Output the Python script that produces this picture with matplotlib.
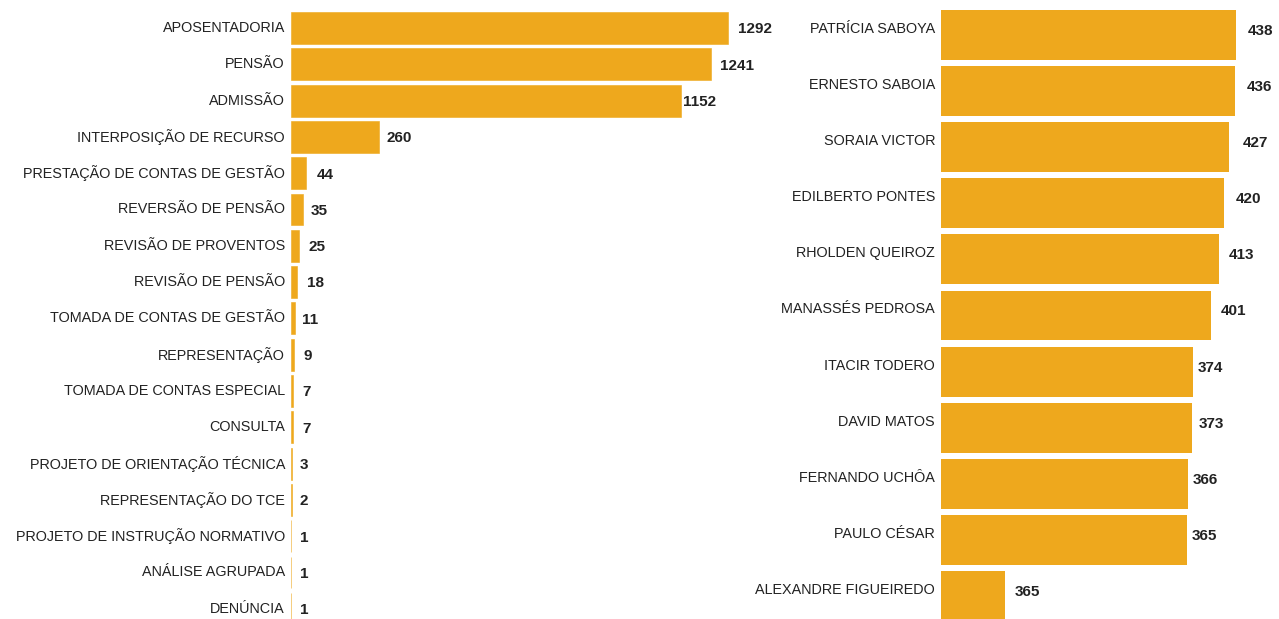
import matplotlib
matplotlib.use("Agg")
from matplotlib import pyplot as plt

plt.rcParams['font.family'] = ['Liberation Sans', 'DejaVu Sans']

# left panel: process types
tipos = ["APOSENTADORIA", "PENSÃO", "ADMISSÃO", "INTERPOSIÇÃO DE RECURSO",
         "PRESTAÇÃO DE CONTAS DE GESTÃO", "REVERSÃO DE PENSÃO", "REVISÃO DE PROVENTOS",
         "REVISÃO DE PENSÃO", "TOMADA DE CONTAS DE GESTÃO", "REPRESENTAÇÃO",
         "TOMADA DE CONTAS ESPECIAL", "CONSULTA", "PROJETO DE ORIENTAÇÃO TÉCNICA",
         "REPRESENTAÇÃO DO TCE", "PROJETO DE INSTRUÇÃO NORMATIVO", "ANÁLISE AGRUPADA",
         "DENÚNCIA"]
tipos_qtd = [1292, 1241, 1152, 260, 44, 35, 25, 18, 11, 9, 7, 7, 3, 2, 1, 1, 1]

# right panel: rapporteurs
relatores = ["PATRÍCIA SABOYA", "ERNESTO SABOIA", "SORAIA VICTOR", "EDILBERTO PONTES",
             "RHOLDEN QUEIROZ", "MANASSÉS PEDROSA", "ITACIR TODERO", "DAVID MATOS",
             "FERNANDO UCHÔA", "PAULO CÉSAR", "ALEXANDRE FIGUEIREDO"]
relatores_qtd = [438, 436, 427, 420, 413, 401, 374, 373, 366, 365, 365]
# last bar is shown only partly drawn in the source picture
relatores_barra = [438, 436, 427, 420, 413, 401, 374, 373, 366, 365, 95]

# horizontal gap (px) between bar end and its number, as in the picture
gap_esq = [10, 9, 2, 8, 11, 8, 9, 10, 7, 9, 9, 9, 8, 8, 9, 9, 9]
gap_dir = [12, 12, 14, 12, 10, 10, 5, 6, 5, 5, 10]

COR = "#EEA81D"
TXT = "#222222"
W, H = 1279, 619
PX = 72 / 100  # points per pixel at dpi 100

fig = plt.figure(figsize=(W / 100, H / 100), dpi=100)

# left axes: bars start at x=291px
axl = fig.add_axes([291 / W, 0, 1400 * 0.3383 / W, 1])
axl.barh(range(len(tipos)), tipos_qtd, height=0.88, color=COR, edgecolor=COR, linewidth=0.4)
axl.set_xlim(0, 1400)
axl.set_ylim((H - 28) / 36.3, -28 / 36.3)
for i, (nome, v) in enumerate(zip(tipos, tipos_qtd)):
    axl.annotate(nome, (0, i), xytext=(-6 * PX, 0), textcoords="offset points",
                 ha="right", va="center", fontsize=10.4, color=TXT)
    axl.annotate(str(v), (v, i), xytext=(gap_esq[i] * PX, -1), textcoords="offset points",
                 ha="left", va="center", fontsize=11, fontweight="bold", color=TXT)
axl.axis("off")

# right axes: bars start at x=941px
axr = fig.add_axes([941 / W, 0, 500 * 0.6735 / W, 1])
axr.barh(range(len(relatores)), relatores_barra, height=0.89, color=COR)
axr.set_xlim(0, 500)
axr.set_ylim((H - 35) / 56.1, -35 / 56.1)
for i, (nome, b, v) in enumerate(zip(relatores, relatores_barra, relatores_qtd)):
    axr.annotate(nome, (0, i), xytext=(-6 * PX, 6 * PX), textcoords="offset points",
                 ha="right", va="center", fontsize=10.4, color=TXT)
    axr.annotate(str(v), (b, i), xytext=(gap_dir[i] * PX, 4 * PX), textcoords="offset points",
                 ha="left", va="center", fontsize=11, fontweight="bold", color=TXT)
axr.axis("off")

fig.savefig("out.png", dpi=100, facecolor="white")
